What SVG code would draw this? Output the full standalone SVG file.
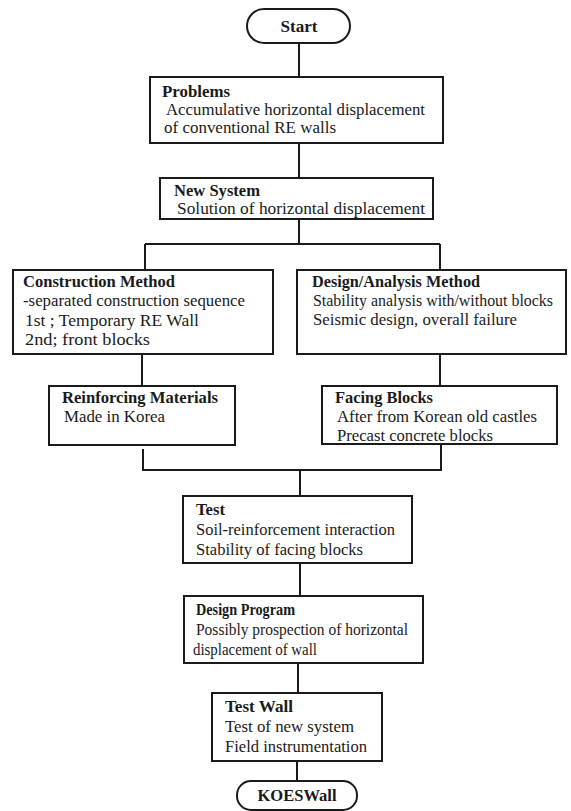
<svg xmlns="http://www.w3.org/2000/svg" width="571" height="811" viewBox="0 0 571 811">
<style>
.box{fill:#fff;stroke:#1a1a1a;stroke-width:2}
.ln{fill:none;stroke:#1a1a1a;stroke-width:2}
text{font-family:"Liberation Serif","Times New Roman",serif;font-size:16px;fill:#1a1a1a}
.h{font-weight:bold}
</style>
<rect width="571" height="811" fill="#fff"/>
<g id="connectors">
<path class="ln" d="M299 43V77M299 143V178M299 219V244M145 244H440M145 244V270M440 244V270"/>
<path class="ln" d="M142 354V386M440 354V386"/>
<path class="ln" d="M143 449V470H441V444M300 470V496"/>
<path class="ln" d="M300 563V596M298 663V693M297 761V781"/>
</g>
<g id="start">
<rect class="box" x="247" y="9" width="103" height="34" rx="17"/>
<text class="h" x="299" y="32" text-anchor="middle" textLength="37" lengthAdjust="spacingAndGlyphs">Start</text>
</g>
<g id="problems">
<rect class="box" x="150" y="77" width="293" height="66"/>
<text class="h" x="162" y="97" textLength="68" lengthAdjust="spacingAndGlyphs">Problems</text>
<text x="166" y="115" textLength="259" lengthAdjust="spacingAndGlyphs">Accumulative horizontal displacement</text>
<text x="164" y="133" textLength="172" lengthAdjust="spacingAndGlyphs">of conventional RE walls</text>
</g>
<g id="new-system">
<rect class="box" x="160" y="178" width="273" height="41"/>
<text class="h" x="174" y="196" textLength="86" lengthAdjust="spacingAndGlyphs">New System</text>
<text x="177" y="214" textLength="248" lengthAdjust="spacingAndGlyphs">Solution of horizontal displacement</text>
</g>
<g id="construction-method">
<rect class="box" x="13" y="270" width="260" height="84"/>
<text class="h" x="23" y="287" textLength="152" lengthAdjust="spacingAndGlyphs">Construction Method</text>
<text x="23" y="306" textLength="222" lengthAdjust="spacingAndGlyphs">-separated construction sequence</text>
<text x="25" y="326" textLength="174" lengthAdjust="spacingAndGlyphs">1st ; Temporary RE Wall</text>
<text x="25" y="345" textLength="125" lengthAdjust="spacingAndGlyphs">2nd; front blocks</text>
</g>
<g id="design-analysis">
<rect class="box" x="297" y="270" width="269" height="84"/>
<text class="h" x="312" y="287" textLength="168" lengthAdjust="spacingAndGlyphs">Design/Analysis Method</text>
<text x="313" y="306" textLength="240" lengthAdjust="spacingAndGlyphs">Stability analysis with/without blocks</text>
<text x="313" y="325" textLength="204" lengthAdjust="spacingAndGlyphs">Seismic design, overall failure</text>
</g>
<g id="reinforcing-materials">
<rect class="box" x="49" y="386" width="186" height="59"/>
<text class="h" x="62" y="403" textLength="156" lengthAdjust="spacingAndGlyphs">Reinforcing Materials</text>
<text x="64" y="422" textLength="101" lengthAdjust="spacingAndGlyphs">Made in Korea</text>
</g>
<g id="facing-blocks">
<rect class="box" x="322" y="386" width="235" height="58"/>
<text class="h" x="335" y="403" textLength="98" lengthAdjust="spacingAndGlyphs">Facing Blocks</text>
<text x="337" y="422" textLength="200" lengthAdjust="spacingAndGlyphs">After from Korean old castles</text>
<text x="337" y="441" textLength="156" lengthAdjust="spacingAndGlyphs">Precast concrete blocks</text>
</g>
<g id="test">
<rect class="box" x="183" y="496" width="229" height="67"/>
<text class="h" x="196" y="515" textLength="29" lengthAdjust="spacingAndGlyphs">Test</text>
<text x="196" y="535" textLength="199" lengthAdjust="spacingAndGlyphs">Soil-reinforcement interaction</text>
<text x="196" y="555" textLength="167" lengthAdjust="spacingAndGlyphs">Stability of facing blocks</text>
</g>
<g id="design-program">
<rect class="box" x="184" y="596" width="239" height="67"/>
<text class="h" x="196" y="615" textLength="99" lengthAdjust="spacingAndGlyphs">Design Program</text>
<text x="196" y="635" textLength="212" lengthAdjust="spacingAndGlyphs">Possibly prospection of horizontal</text>
<text x="193" y="655" textLength="124" lengthAdjust="spacingAndGlyphs">displacement of wall</text>
</g>
<g id="test-wall">
<rect class="box" x="212" y="693" width="170" height="68"/>
<text class="h" x="225" y="712" textLength="68" lengthAdjust="spacingAndGlyphs">Test Wall</text>
<text x="225" y="732" textLength="129" lengthAdjust="spacingAndGlyphs">Test of new system</text>
<text x="225" y="752" textLength="142" lengthAdjust="spacingAndGlyphs">Field instrumentation</text>
</g>
<g id="koeswall">
<rect class="box" x="237" y="781" width="120" height="29" rx="14"/>
<text class="h" x="297" y="801" text-anchor="middle" textLength="79" lengthAdjust="spacingAndGlyphs">KOESWall</text>
</g>
</svg>
